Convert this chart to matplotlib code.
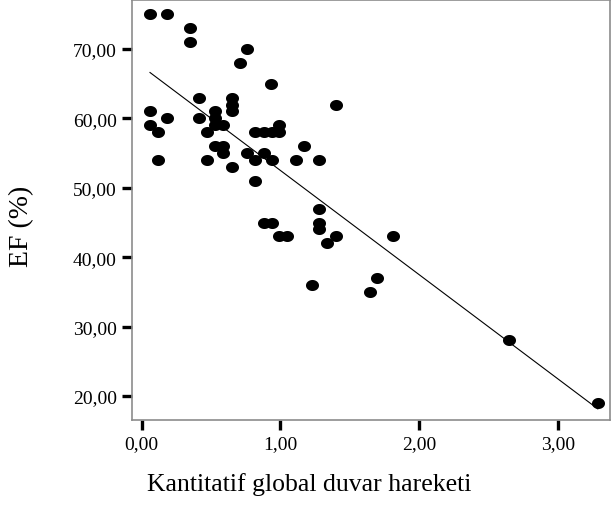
import numpy as np
import matplotlib
matplotlib.use("Agg")
import matplotlib.pyplot as plt
from matplotlib.path import Path
from matplotlib.ticker import FuncFormatter

wall_motion = [0.06, 0.18, 0.35, 0.35, 0.76, 0.71, 0.93, 0.41, 0.65, 0.65,
               0.65, 0.06, 0.53, 1.40, 0.06, 0.18, 0.41, 0.53, 0.53, 0.59,
               0.12, 0.47, 0.82, 0.88, 0.94, 0.99, 0.99, 0.53, 0.59, 0.59,
               1.17, 0.76, 0.88, 0.12, 0.47, 0.82, 0.94, 1.11, 1.28, 0.65,
               0.82, 1.28, 0.88, 0.94, 1.28, 1.28, 0.99, 1.05, 1.40, 1.34,
               1.81, 1.23, 1.70, 1.65, 2.65, 3.29]
ef = [75, 75, 73, 71, 70, 68, 65, 63, 63, 62,
      61, 61, 61, 62, 59, 60, 60, 60, 59, 59,
      58, 58, 58, 58, 58, 58, 59, 56, 56, 55,
      56, 55, 55, 54, 54, 54, 54, 54, 54, 53,
      51, 47, 45, 45, 45, 44, 43, 43, 43, 42,
      43, 36, 37, 35, 28, 19]

x_ticks = [0, 1, 2, 3]
y_ticks = [20, 30, 40, 50, 60, 70]
x_label = "Kantitatif global duvar hareketi"
y_label = "EF (%)"

plt.rcParams['font.family'] = ['Liberation Serif', 'DejaVu Serif']

fig = plt.figure(figsize=(6.11, 5.10), dpi=100)
ax = fig.add_axes([0.216, 0.1745, 0.782, 0.8235])

# elliptical marker (slightly wider than tall)
t = np.linspace(0, 2 * np.pi, 60)
ell = Path(np.column_stack([1.18 * np.cos(t), np.sin(t)]), closed=True)

xa = np.array(wall_motion)
ya = np.array(ef)
slope, intercept = np.polyfit(xa, ya, 1)
xl = np.array([xa.min(), xa.max()])
ax.plot(xl, intercept + slope * xl, color='black', lw=0.8, zorder=2)
ax.scatter(xa, ya, marker=ell, s=88, color='black', linewidths=0, zorder=3)

ax.set_xlim(-0.07, 3.376)
ax.set_ylim(16.54, 77.06)
ax.set_xticks(x_ticks)
ax.set_yticks(y_ticks)
fmt = FuncFormatter(lambda v, p: f"{v:.2f}".replace('.', ','))
ax.xaxis.set_major_formatter(fmt)
ax.yaxis.set_major_formatter(fmt)
ax.tick_params(axis='both', direction='out', length=7, width=2.4, color='black',
               labelsize=14, pad=4)
for s in ax.spines.values():
    s.set_color('#8c8c8c')
    s.set_linewidth(1.2)

ax.set_xlabel(x_label, fontsize=18.5)
ax.set_ylabel(y_label, fontsize=20)
ax.xaxis.set_label_coords((309 - 132) / 478, -0.152)
ax.xaxis.label.set_va('center')
ax.yaxis.set_label_coords(-0.23, 0.464)
ax.yaxis.label.set_va('center')

fig.savefig("out.png", dpi=100)
